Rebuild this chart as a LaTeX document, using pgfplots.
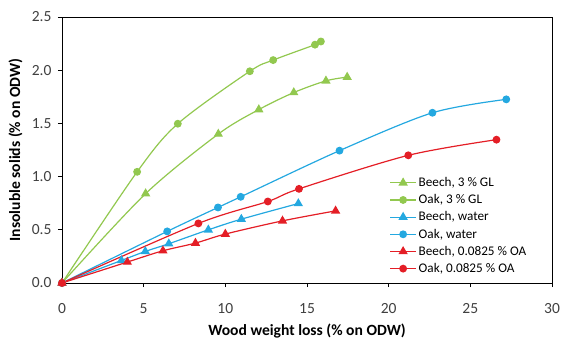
\documentclass[border=0pt]{standalone}
\usepackage{pgfplots}
\pgfplotsset{compat=1.18}
\usepackage{fontspec}
\setmainfont{Carlito}
\definecolor{cgreen}{RGB}{146,200,79}
\definecolor{cblue}{RGB}{36,168,224}
\definecolor{cred}{RGB}{228,30,38}
\begin{document}
\begin{tikzpicture}
\path[use as bounding box] (-62pt,-57pt) rectangle (499pt,283pt);
\begin{axis}[
  scale only axis, width=490pt, height=266pt,
  xmin=0, xmax=30, ymin=0, ymax=2.5,
  xtick={0,5,...,30}, ytick={0,0.5,...,2.5},
  yticklabel style={/pgf/number format/fixed, /pgf/number format/fixed zerofill, /pgf/number format/precision=1},
  /pgf/number format/assume math mode=true,
  tick align=outside, major tick length=4pt,
  tick style={black, line width=0.8pt},
  axis line style={black, line width=0.9pt},
  tick label style={font=\fontsize{15.5}{17}\selectfont, text=black!75},
  xticklabel style={yshift=-13pt},
  yticklabel style={xshift=-3pt},
  xtick pos=bottom, ytick pos=left,
  xlabel={\textbf{Wood weight loss (\% on ODW)}},
  ylabel={\textbf{Insoluble solids (\% on ODW)}},
  label style={font=\fontsize{15.6}{17}\selectfont},
  xlabel style={at={(axis description cs:0.5,-0.181)}, anchor=center},
  ylabel style={at={(axis description cs:-0.095,0.5)}, anchor=center},
  legend style={draw=none, fill=none, at={(rel axis cs:0.668,0.405)}, anchor=north west,
    font=\fontsize{13.2}{15}\selectfont, row sep=2.5pt, inner sep=0pt},
  legend cell align=left,
  legend image code/.code={\draw[mark repeat=2,mark phase=2,#1] plot coordinates {(0pt,0pt) (13pt,0pt) (26pt,0pt)};},
  every axis plot/.append style={line width=1.2pt, smooth, tension=0.5},
]
\addplot[cgreen, mark=triangle*, mark size=4.2pt, mark options={solid}] coordinates {
(0,0) (5.12,0.84) (9.57,1.40) (12.05,1.63) (14.19,1.79) (16.16,1.90) (17.46,1.935)};
\addlegendentry{Beech, 3 \% GL}
\addplot[cgreen, mark=*, mark size=3.3pt] coordinates {
(0,0) (4.6,1.045) (7.09,1.497) (11.5,1.99) (12.93,2.095) (15.49,2.24) (15.85,2.27)};
\addlegendentry{Oak, 3 \% GL}
\addplot[cblue, mark=triangle*, mark size=4.2pt] coordinates {
(0,0) (3.64,0.212) (5.1,0.297) (6.54,0.369) (8.96,0.50) (10.98,0.60) (14.47,0.747)};
\addlegendentry{Beech, water}
\addplot[cblue, mark=*, mark size=3.3pt] coordinates {
(0,0) (6.44,0.485) (9.55,0.71) (10.94,0.81) (16.99,1.244) (22.68,1.60) (27.2,1.726)};
\addlegendentry{Oak, water}
\addplot[cred, mark=triangle*, mark size=4.2pt] coordinates {
(0,0) (4.0,0.197) (6.18,0.303) (8.17,0.375) (10.0,0.46) (13.5,0.584) (16.75,0.678)};
\addlegendentry{Beech, 0.0825 \% OA}
\addplot[cred, mark=*, mark size=3.3pt] coordinates {
(0,0) (8.35,0.56) (12.6,0.766) (14.51,0.885) (21.2,1.20) (26.6,1.347)};
\addlegendentry{Oak, 0.0825 \% OA}
\end{axis}
\end{tikzpicture}
\end{document}
